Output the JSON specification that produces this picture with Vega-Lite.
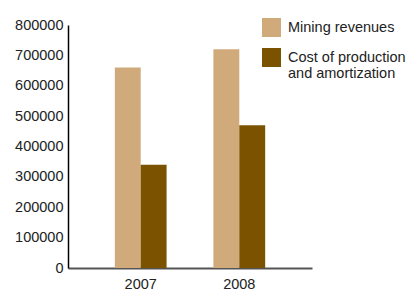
{
  "$schema": "https://vega.github.io/schema/vega-lite/v6.json",
  "width": 244,
  "height": 243,
  "autosize": "none",
  "padding": {"left": 68, "top": 25, "right": 100, "bottom": 25},
  "background": "white",
  "config": {
    "view": {"stroke": null},
    "font": "Arial",
    "axis": {"grid": false, "labelFont": "Arial", "labelFontSize": 14.5, "labelColor": "#222", "titleColor": "#222"},
    "legend": {"labelFont": "Arial", "labelFontSize": 14.5, "labelColor": "#222"}
  },
  "data": {
    "values": [
      {"year": "2007", "series": "Mining revenues", "value": 660000},
      {"year": "2007", "series": "Cost of production and amortization", "value": 340000},
      {"year": "2008", "series": "Mining revenues", "value": 720000},
      {"year": "2008", "series": "Cost of production and amortization", "value": 470000}
    ]
  },
  "mark": {"type": "bar"},
  "encoding": {
    "x": {
      "field": "year", "type": "nominal", "title": null,
      "scale": {"paddingInner": 0.475, "paddingOuter": 0.475},
      "axis": {"labelAngle": 0, "ticks": false, "domainColor": "#555", "domainWidth": 2, "labelPadding": 9, "labelFontSize": 14.5}
    },
    "xOffset": {
      "field": "series", "type": "nominal",
      "sort": ["Mining revenues", "Cost of production and amortization"],
      "scale": {"paddingInner": 0, "paddingOuter": 0}
    },
    "y": {
      "field": "value", "type": "quantitative", "title": null,
      "scale": {"domain": [0, 800000], "nice": false},
      "axis": {"values": [0,100000,200000,300000,400000,500000,600000,700000,800000], "format": "d", "ticks": false, "domainColor": "#000", "domainWidth": 1.5, "labelPadding": 5, "labelFontSize": 14.5}
    },
    "color": {
      "field": "series", "type": "nominal",
      "sort": ["Mining revenues", "Cost of production and amortization"],
      "scale": {"domain": ["Mining revenues", "Cost of production and amortization"], "range": ["#D0AA7A", "#7A5200"]},
      "legend": {
        "title": null, "orient": "none", "legendX": 194, "legendY": -7,
        "symbolType": "square", "symbolSize": 361, "symbolStrokeWidth": 0,
        "rowPadding": 11, "labelOffset": 7, "labelLimit": 300, "padding": 0, "labelFontSize": 14.5,
        "labelExpr": "datum.label == 'Cost of production and amortization' ? ['Cost of production', 'and amortization'] : datum.label"
      }
    }
  }
}
